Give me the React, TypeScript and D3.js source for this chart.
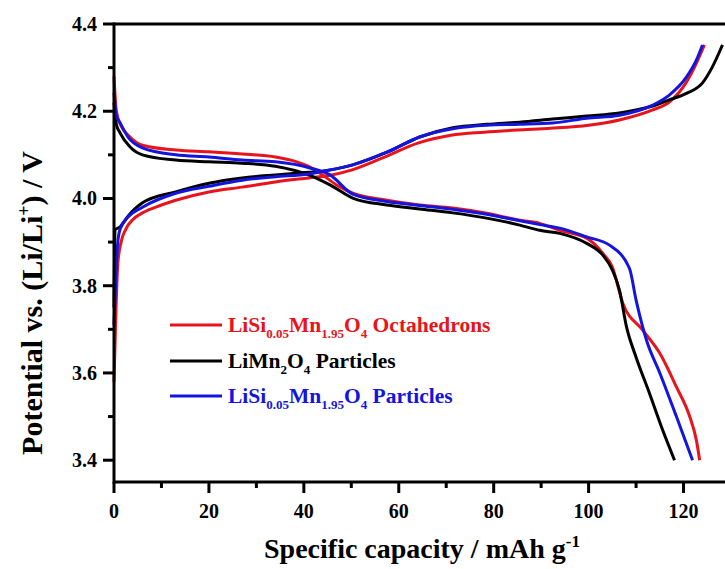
import * as d3 from "d3";

// charge / discharge curves, [capacity mAh/g, potential V]
const octaCharge: [number, number][] = [
  [0, 3.58], [0.3, 3.7], [0.8, 3.85], [1.5, 3.9], [2.5, 3.93], [4, 3.952], [6, 3.967], [10, 3.985],
  [13, 3.996], [20, 4.015], [27, 4.026], [34, 4.038], [41, 4.047], [45, 4.052], [50, 4.065],
  [57, 4.095], [64, 4.127], [71, 4.145], [78, 4.152], [85, 4.157], [92, 4.161], [100, 4.168],
  [106.5, 4.18], [113.5, 4.203], [117, 4.221], [120.5, 4.265], [122.7, 4.31], [124.4, 4.352],
];
const octaDischarge: [number, number][] = [
  [0, 4.28], [0.5, 4.2], [1.6, 4.164], [3, 4.145], [6, 4.122], [13, 4.111], [20, 4.107],
  [27, 4.102], [34, 4.095], [38.5, 4.084], [41.3, 4.072], [43.4, 4.058], [46.9, 4.031],
  [50.3, 4.012], [57.5, 3.996], [64.4, 3.985], [71.4, 3.978], [78.5, 3.966], [85.5, 3.95],
  [89.7, 3.943], [93.9, 3.927], [99.6, 3.909], [103, 3.874], [105, 3.843], [107.2, 3.76],
  [111.4, 3.698], [115, 3.645], [118.5, 3.568], [121.3, 3.5], [122.7, 3.446], [123.4, 3.4],
];
const lmoCharge: [number, number][] = [
  [0, 3.75], [0.1, 3.85], [0.2, 3.928], [1.3, 3.935], [3, 3.96], [6, 3.99], [13, 4.015],
  [20, 4.035], [27, 4.047], [34, 4.054], [41, 4.06], [43.4, 4.062], [50.3, 4.077], [57.5, 4.106],
  [64.4, 4.141], [71.4, 4.162], [78.5, 4.17], [85.5, 4.175], [92.4, 4.182], [99.6, 4.189],
  [106.5, 4.196], [113.5, 4.212], [117, 4.226], [120.6, 4.241], [124, 4.265], [126, 4.3], [128.2, 4.352],
];
const lmoDischarge: [number, number][] = [
  [0, 4.22], [0.5, 4.17], [1.3, 4.15], [3.4, 4.118], [6, 4.1], [13, 4.088], [20, 4.084],
  [27, 4.081], [34, 4.074], [41, 4.054], [45.5, 4.031], [50.3, 4.001], [57.5, 3.985],
  [64.4, 3.976], [71.4, 3.967], [78.5, 3.955], [85.5, 3.939], [89.7, 3.927], [93.9, 3.92],
  [99.6, 3.897], [103, 3.87], [105, 3.836], [106.5, 3.79], [108, 3.705], [110, 3.636],
  [112.8, 3.554], [115.6, 3.469], [118.1, 3.4],
];
const siPartCharge: [number, number][] = [
  [0, 3.71], [0.4, 3.82], [0.8, 3.9], [1.3, 3.93], [3, 3.958], [6, 3.98], [13, 4.012],
  [20, 4.028], [27, 4.042], [34, 4.05], [41, 4.056], [43.4, 4.061], [50.3, 4.077], [57.5, 4.106],
  [64.4, 4.141], [71.4, 4.16], [78.5, 4.168], [85.5, 4.17], [92.4, 4.173], [99.6, 4.184],
  [106.5, 4.191], [113.5, 4.214], [117, 4.237], [120.6, 4.278], [122.7, 4.317], [124, 4.352],
];
const siPartDischarge: [number, number][] = [
  [0, 4.242], [0.5, 4.19], [1.3, 4.173], [3, 4.14], [6, 4.116], [13, 4.1], [20, 4.095],
  [27, 4.088], [34, 4.084], [41.3, 4.07], [45.5, 4.054], [50.3, 4.01], [57.5, 3.993],
  [64.4, 3.984], [71.4, 3.975], [78.5, 3.964], [85.5, 3.949], [89.7, 3.94], [93.9, 3.932],
  [99.6, 3.912], [104.4, 3.893], [108.6, 3.84], [110, 3.767], [112.2, 3.675], [115, 3.6],
  [118.5, 3.5], [121.9, 3.4],
];

const xTicks = [0, 20, 40, 60, 80, 100, 120];
const xMinor = [10, 30, 50, 70, 90, 110];
const yTicks = [3.4, 3.6, 3.8, 4.0, 4.2, 4.4];
const yMinor = [3.5, 3.7, 3.9, 4.1, 4.3];

const RED = "#e8141c";
const BLACK = "#000000";
const BLUE = "#1414e0";

const series = [
  { curves: [octaCharge, octaDischarge], color: RED },
  { curves: [lmoCharge, lmoDischarge], color: BLACK },
  { curves: [siPartCharge, siPartDischarge], color: BLUE },
];

const FONT = "'Liberation Serif', 'Times New Roman', serif";

export default function App() {
  const left = 114, right = 731, top = 24, bottom = 482;
  const x = d3.scaleLinear().domain([0, 130]).range([left, right]);
  const y = d3.scaleLinear().domain([3.35, 4.4]).range([bottom, top]);
  const line = d3
    .line<[number, number]>()
    .x((d) => x(d[0]))
    .y((d) => y(d[1]))
    .curve(d3.curveMonotoneX);

  const legendRows = [
    { y: 325, color: RED, label: [["LiSi", ""], ["0.05", "sub"], ["Mn", ""], ["1.95", "sub"], ["O", ""], ["4", "sub"], [" Octahedrons", ""]] },
    { y: 361, color: BLACK, label: [["LiMn", ""], ["2", "sub"], ["O", ""], ["4", "sub"], [" Particles", ""]] },
    { y: 396, color: BLUE, label: [["LiSi", ""], ["0.05", "sub"], ["Mn", ""], ["1.95", "sub"], ["O", ""], ["4", "sub"], [" Particles", ""]] },
  ];

  return (
    <svg width={725} height={569} style={{ position: "absolute", left: 0, top: 0, background: "#fff" }} fontFamily={FONT}>
      <rect width={725} height={569} fill="#fff" />

      {/* curves */}
      {series.map((s, i) =>
        s.curves.map((c, j) => (
          <path key={`${i}-${j}`} d={line(c) || ""} fill="none" stroke={s.color} strokeWidth={3} strokeLinejoin="round" />
        ))
      )}

      {/* frame */}
      <line x1={left} x2={725} y1={top} y2={top} stroke="#000" strokeWidth={3} />
      <line x1={left} x2={725} y1={bottom} y2={bottom} stroke="#000" strokeWidth={3} />
      <line x1={left} x2={left} y1={top - 1.5} y2={bottom + 1.5} stroke="#000" strokeWidth={3} />

      {/* x ticks */}
      {xTicks.map((t) => (
        <g key={`xt${t}`}>
          <line x1={x(t)} x2={x(t)} y1={bottom} y2={bottom + 11} stroke="#000" strokeWidth={3} />
          <text x={x(t)} y={518} textAnchor="middle" fontSize={20} fontWeight="bold">{t}</text>
        </g>
      ))}
      {xMinor.map((t) => (
        <line key={`xm${t}`} x1={x(t)} x2={x(t)} y1={bottom} y2={bottom + 6} stroke="#000" strokeWidth={3} />
      ))}

      {/* y ticks */}
      {yTicks.map((t) => (
        <g key={`yt${t}`}>
          <line x1={left - 11} x2={left} y1={y(t)} y2={y(t)} stroke="#000" strokeWidth={3} />
          <text x={97} y={y(t)} dy="0.35em" textAnchor="end" fontSize={20} fontWeight="bold">{t.toFixed(1)}</text>
        </g>
      ))}
      {yMinor.map((t) => (
        <line key={`ym${t}`} x1={left - 6} x2={left} y1={y(t)} y2={y(t)} stroke="#000" strokeWidth={3} />
      ))}

      {/* axis titles */}
      <text x={422} y={558} textAnchor="middle" fontSize={28} fontWeight="bold">
        Specific capacity / mAh g<tspan dy={-11} fontSize={17}>-1</tspan>
      </text>
      <text transform="translate(42,303) rotate(-90)" textAnchor="middle" fontSize={30} fontWeight="bold">
        Potential vs. (Li/Li<tspan dy={-12} fontSize={18}>+</tspan><tspan dy={12}>) / V</tspan>
      </text>

      {/* legend */}
      {legendRows.map((r) => (
        <g key={r.y}>
          <line x1={170} x2={222} y1={r.y} y2={r.y} stroke={r.color} strokeWidth={3} />
          <text x={228} y={r.y + 7} fontSize={21.5} fontWeight="bold" fill={r.color}>
            {r.label.map(([txt, kind], k) => {
              const prevSub = k > 0 && r.label[k - 1][1] === "sub";
              const dy = kind === "sub" ? 6 : prevSub ? -6 : 0;
              return (
                <tspan key={k} dy={dy} fontSize={kind === "sub" ? 13 : 21.5}>{txt}</tspan>
              );
            })}
          </text>
        </g>
      ))}
    </svg>
  );
}
